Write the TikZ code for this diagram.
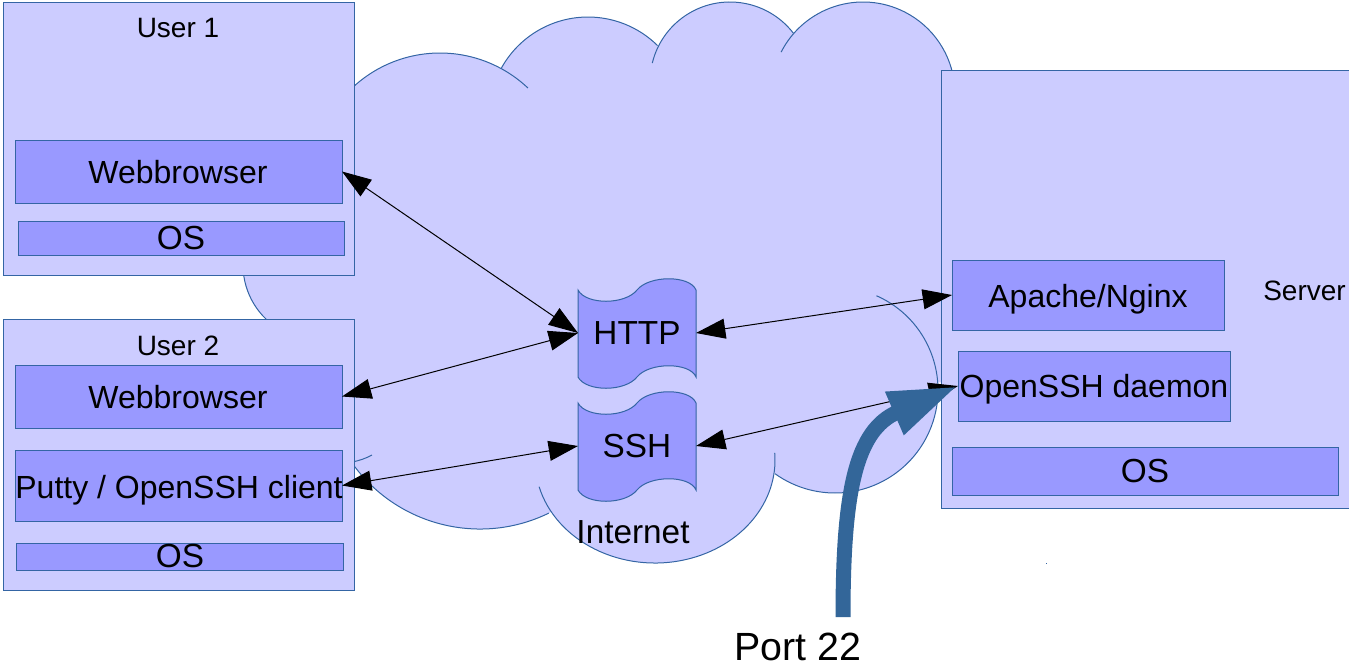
\documentclass[tikz,border=0pt]{standalone}
\usepackage{fontspec}
\setmainfont{Liberation Sans}
\usetikzlibrary{arrows.meta,fit}
\definecolor{cloudfill}{HTML}{CCCCFF}
\definecolor{boxfill}{HTML}{9999FF}
\definecolor{edgeblue}{HTML}{3465A4}
\definecolor{portblue}{HTML}{336699}
\newcommand\fsz[1]{\fontsize{#1}{#1}\selectfont}
\tikzset{
  pics/tapepic/.style={code={
    \path[tapeshape] (-59,-43) .. controls (-51,-28) and (-12,-28) .. (0,-43)
      .. controls (12,-58) and (53,-58) .. (59,-43) -- (59,44)
      .. controls (53,29) and (12,29) .. (0,44)
      .. controls (-12,59) and (-51,59) .. (-59,44) -- cycle;
  }}
}
\begin{document}
\begin{tikzpicture}[x=0.75pt,y=-0.75pt,
  outerbox/.style={draw=edgeblue, fill=cloudfill, line width=0.75pt, inner sep=0pt, outer sep=0pt},
  innerbox/.style={draw=edgeblue, fill=boxfill, line width=0.75pt, inner sep=0pt, outer sep=0pt},
  boxtext/.style={font=\fsz{24pt}, inner sep=0pt},
  ostext/.style={font=\fsz{25pt}, inner sep=0pt},
  titletext/.style={font=\fsz{21pt}, inner sep=0pt},
  bigtext/.style={font=\fsz{25pt}, inner sep=0pt},
  porttext/.style={font=\fsz{29.5pt}, inner sep=0pt},
  cloudline/.style={draw=edgeblue, line width=0.75pt},
  tapeshape/.style={draw=edgeblue, fill=boxfill, line width=0.75pt},
  tapenode/.style={font=\fsz{25pt}, inner sep=0pt, outer sep=0pt, minimum width=88.5pt, minimum height=65pt},
  link/.style={line width=0.75pt, black, {Triangle[length=22pt,width=15pt]}-{Triangle[length=22pt,width=15pt]}},
  portarrow/.style={line width=11.25pt, draw=portblue, -{Triangle[length=52pt,width=32pt]}}
]
\useasboundingbox (0,0) rectangle (1349,669);

% ---- cloud fill ----
\fill[cloudfill] (354,110) -- (440,181) -- (588,116) -- (730,82) -- (863,94) -- (945,60)
  -- (945,382) -- (835,390) -- (655,460) -- (547,490) -- (480,372) -- (354,420) -- cycle;
\fill[cloudfill] (440,181) circle[radius=128];
\fill[cloudfill] (588,116) circle[radius=99];
\fill[cloudfill] (730,82) circle[radius=80];
\fill[cloudfill] (863,94) circle[radius=92];
\fill[cloudfill] (318,265) circle[radius=75];
\fill[cloudfill] (480,372) circle[radius=157];
\fill[cloudfill] (835,390) circle[radius=103];
\fill[cloudfill] (655,460) ellipse[x radius=120, y radius=103];

% ---- cloud outline ----
\draw[cloudline] (440,181) ++(-140:128) arc[start angle=-140, end angle=-46.6, radius=128];
\draw[cloudline] (588,116) ++(-151.3:99) arc[start angle=-151.3, end angle=-45.4, radius=99];
\draw[cloudline] (730,82) ++(-166.3:80) arc[start angle=-166.3, end angle=-37.6, radius=80];
\draw[cloudline] (863,94) ++(-152.9:92) arc[start angle=-152.9, end angle=-5, radius=92];
\draw[cloudline] (318,265) ++(190:75) arc[start angle=190, end angle=130, radius=75];
\draw[cloudline] (480,372) ++(150:157) arc[start angle=150, end angle=64, radius=157];
\draw[cloudline] (655,460) ++(165:120 and 103) arc[start angle=165, end angle=-4, x radius=120, y radius=103];
\draw[cloudline] (835,390) ++(-66.3:103) arc[start angle=-66.3, end angle=125.6, radius=103];
\draw[cloudline] (352,462) to[bend right=8] (372,455);

% ---- User 1 ----
\node[outerbox, fit={(3,2) (354,275)}] (user1) {};
\node[titletext] (user1lbl) at (178,28) {User 1};
\node[innerbox, fit={(15,140) (342,203)}] (wb1) {};
\node[boxtext] (wb1t) at (178,172) {Webbrowser};
\node[innerbox, fit={(18,221) (344,255)}] (os1) {};
\node[ostext] (os1t) at (181,238) {OS};

% ---- User 2 ----
\node[outerbox, fit={(3,319) (354,590)}] (user2) {};
\node[titletext] (user2lbl) at (178,346) {User 2};
\node[innerbox, fit={(15,365) (342,428)}] (wb2) {};
\node[boxtext] (wb2t) at (178,397) {Webbrowser};
\node[innerbox, fit={(15,450) (342,521)}] (putty) {};
\node[boxtext, anchor=base] (puttyt) at (179,498) {Putty / OpenSSH client};
\node[innerbox, fit={(16,543) (343,570)}] (os2) {};
\node[ostext] (os2t) at (180,556) {OS};

% ---- Server ----
\node[outerbox, fit={(941,70) (1362,508)}] (server) {};
\node[titletext, anchor=west] (serverlbl) at (1263,291) {Server};
\node[innerbox, fit={(952,260) (1224,330)}] (apache) {};
\node[boxtext, anchor=base] (apachet) at (1088,307) {Apache/Nginx};
\node[innerbox, fit={(958,351) (1230,421)}] (sshd) {};
\node[boxtext, anchor=base] (sshdt) at (1094,397) {OpenSSH daemon};
\node[innerbox, fit={(952,447) (1338,495)}] (os3) {};
\node[ostext] (os3t) at (1145,471) {OS};

% ---- Internet protocols ----
\coordinate (httpc) at (637,333);
\coordinate (sshc) at (637,446);
\pic at (httpc) {tapepic};
\pic at (sshc) {tapepic};
\node[tapenode] (http) at (httpc) {HTTP};
\node[tapenode] (ssh) at (sshc) {SSH};
\node[bigtext] (internet) at (633,532) {Internet};

% ---- connections ----
\draw[link] (wb1.east) -- (http.west);
\draw[link] (wb2.east) -- (http.west);
\draw[link] (putty.east) -- (ssh.west);
\draw[link] (http.east) -- (apache.west);
\draw[link] (ssh.east) -- (sshd.west);

% ---- Port 22 ----
\node[porttext] (port) at (798,647) {Port 22};
\coordinate (portstart) at (843,617);
\draw[portarrow] (portstart) .. controls (843,490) and (856,430) .. (sshd.west);

% stray dot
\fill[edgeblue] (1045.5,562.5) rectangle (1047,564);
\end{tikzpicture}
\end{document}
